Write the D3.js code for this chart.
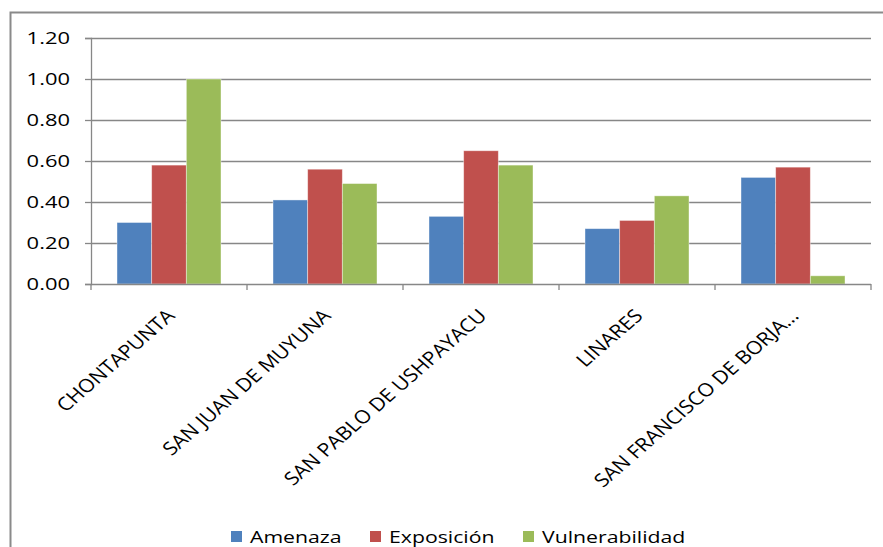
<!DOCTYPE html>
<html>
<head>
<meta charset="utf-8">
<script src="https://cdn.jsdelivr.net/npm/d3@7"></script>
<style>
  html, body { margin: 0; padding: 0; background: #fff; }
  svg { display: block; font-family: "Open Sans", "Noto Sans", sans-serif; }
</style>
</head>
<body>
<svg id="chart" width="883" height="547"></svg>
<script>
(function () {
    'use strict';

    var categories = ['CHONTAPUNTA', 'SAN JUAN DE MUYUNA', 'SAN PABLO DE USHPAYACU', 'LINARES', 'SAN FRANCISCO DE BORJA...'];
    var seriesNames = ['Amenaza', 'Exposición', 'Vulnerabilidad'];
    var amenaza = [0.30, 0.41, 0.33, 0.27, 0.52];
    var exposicion = [0.58, 0.56, 0.65, 0.31, 0.57];
    var vulnerabilidad = [1.00, 0.49, 0.58, 0.43, 0.04];
    var yTicks = [0, 0.2, 0.4, 0.6, 0.8, 1.0, 1.2];
    var colors = ['#4F81BD', '#C0504D', '#9BBB59'];

    var seriesValues = [amenaza, exposicion, vulnerabilidad];

    var svg = d3.select('#chart');

    // outer chart frame (right and bottom edges fall outside the picture)
    svg.append('rect')
        .attr('x', 10.5).attr('y', 12.5)
        .attr('width', 900).attr('height', 600)
        .attr('fill', 'none')
        .attr('stroke', '#8a8a8a')
        .attr('stroke-width', 2);

    var left = 91, right = 871, top = 38, bottom = 284;

    var y = d3.scaleLinear().domain([0, 1.2]).range([bottom, top]);
    var x0 = d3.scaleBand().domain(categories).range([left, right]).padding(0);
    var x1 = d3.scaleBand().domain(seriesNames).range([0, x0.bandwidth()])
        .paddingInner(0).paddingOuter(0.75);

    // gridlines
    svg.append('g')
        .selectAll('line')
        .data(yTicks.filter(function (d) { return d > 0; }))
        .enter()
        .append('line')
        .attr('x1', left).attr('x2', right)
        .attr('y1', function (d) { return Math.round(y(d)) + 0.5; })
        .attr('y2', function (d) { return Math.round(y(d)) + 0.5; })
        .attr('stroke', '#878787')
        .attr('stroke-width', 1.3);

    // bars
    var groups = svg.append('g')
        .selectAll('g')
        .data(categories)
        .enter()
        .append('g')
        .attr('transform', function (d) { return 'translate(' + x0(d) + ',0)'; });

    groups.selectAll('rect')
        .data(function (d, i) {
            return seriesNames.map(function (s, j) {
                return { series: s, value: seriesValues[j][i], color: colors[j] };
            });
        })
        .enter()
        .append('rect')
        .attr('x', function (d) { return x1(d.series); })
        .attr('width', x1.bandwidth())
        .attr('y', function (d) { return y(d.value); })
        .attr('height', function (d) { return bottom - y(d.value); })
        .attr('fill', function (d) { return d.color; })
        .attr('stroke', 'rgba(255,255,255,0.5)')
        .attr('stroke-width', 0.8);

    // y axis
    var yAxis = svg.append('g')
        .attr('transform', 'translate(' + left + ',0)')
        .call(d3.axisLeft(y).tickValues(yTicks).tickSize(6).tickFormat(d3.format('.2f')));
    yAxis.select('.domain').attr('stroke', '#878787').attr('stroke-width', 1.3);
    yAxis.selectAll('.tick line').attr('stroke', '#878787').attr('stroke-width', 1.3);
    yAxis.selectAll('.tick text').remove();

    // y labels, widened like the picture
    svg.append('g')
        .selectAll('text')
        .data(yTicks)
        .enter()
        .append('text')
        .attr('transform', function (d) { return 'translate(70,' + y(d) + ') scale(1.33,1)'; })
        .attr('text-anchor', 'end')
        .attr('dy', '0.36em')
        .attr('font-size', 16.5)
        .attr('fill', '#000')
        .text(d3.format('.2f'));

    // x axis
    svg.append('line')
        .attr('x1', left).attr('x2', right)
        .attr('y1', bottom + 0.5).attr('y2', bottom + 0.5)
        .attr('stroke', '#878787').attr('stroke-width', 1.3);

    var boundaries = categories.map(function (c) { return x0(c); }).concat([right]);
    svg.append('g')
        .selectAll('line')
        .data(boundaries)
        .enter()
        .append('line')
        .attr('x1', function (d) { return d; })
        .attr('x2', function (d) { return d; })
        .attr('y1', bottom).attr('y2', bottom + 6)
        .attr('stroke', '#878787').attr('stroke-width', 1.3);

    svg.append('g')
        .selectAll('text')
        .data(categories)
        .enter()
        .append('text')
        .attr('transform', function (d) {
            var cx = x0(d) + x0.bandwidth() / 2 + 7;
            return 'translate(' + cx + ',317) scale(1.15,1) rotate(-45)';
        })
        .attr('text-anchor', 'end')
        .attr('font-size', 18.5)
        .attr('fill', '#000')
        .text(function (d) { return d; });

    // legend
    var legendX = [231, 370, 523];
    var legend = svg.append('g')
        .selectAll('g')
        .data(seriesNames)
        .enter()
        .append('g')
        .attr('transform', function (d, i) { return 'translate(' + legendX[i] + ',531)'; });
    legend.append('rect')
        .attr('width', 11).attr('height', 11)
        .attr('fill', function (d, i) { return colors[i]; });
    legend.append('text')
        .attr('transform', 'translate(19,12) scale(1.25,1)')
        .attr('font-size', 17)
        .attr('fill', '#000')
        .text(function (d) { return d; });
}());
</script>
</body>
</html>
